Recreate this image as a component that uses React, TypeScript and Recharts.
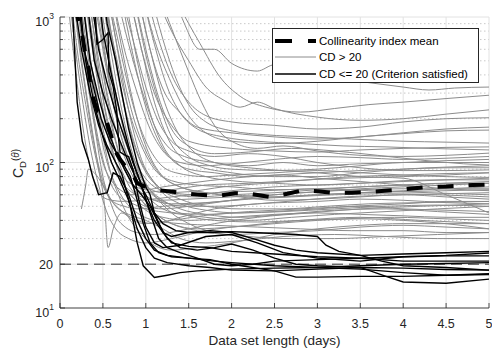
import React from 'react';
import { LineChart, Line, XAxis, YAxis, CartesianGrid } from 'recharts';

type Pt = [number, number];

// axis ticks
const xTicks = [0, 0.5, 1, 1.5, 2, 2.5, 3, 3.5, 4, 4.5, 5];
const yMajorTicks = [10, 20, 100, 1000];
const yLabelBase = ['10', '20', '10', '10'];
const yLabelExp = ['1', '', '2', '3'];
const yMinorTicks = [30, 40, 50, 60, 70, 80, 90, 200, 300, 400, 500, 600, 700, 800, 900];
const yAllTicks = [10, 20, 30, 40, 50, 60, 70, 80, 90, 100, 200, 300, 400, 500, 600, 700, 800, 900, 1000];

const legendLabels = ['Collinearity index mean', 'CD > 20', 'CD <= 20 (Criterion satisfied)'];

// criterion level
const threshold: Pt[] = [[0, 20], [5, 20]];

// mean of the collinearity index
const meanLine: Pt[] = [
  [0.18, 1200], [0.22, 900], [0.26, 750], [0.29, 580], [0.33, 460], [0.36, 340], [0.4, 260],
  [0.44, 225], [0.5, 215], [0.54, 195], [0.6, 150], [0.65, 118], [0.7, 105], [0.75, 96],
  [0.84, 85], [0.9, 72], [1.0, 68], [1.1, 65], [1.34, 62.7], [1.52, 60.7], [1.67, 59.8],
  [1.84, 58.9], [2.04, 61.5], [2.21, 61], [2.45, 58], [2.65, 61], [2.83, 64.5], [3.0, 63.5],
  [3.18, 62], [3.4, 62], [3.58, 62.6], [3.78, 64], [3.96, 65], [4.13, 66.5], [4.31, 68],
  [4.5, 68.5], [4.81, 70], [5, 70.5],
];

// CD > 20, slow ones that stay high
const grayLate: Pt[][] = [
  [[1.25, 2000], [1.45, 900], [1.63, 600], [1.8, 600], [2.0, 480], [2.3, 425], [2.5, 470], [2.8, 430], [3.2, 380], [3.5, 360], [4, 330], [4.3, 315], [4.6, 325], [5, 330]],
  [[1.3, 1500], [1.5, 900], [1.63, 660], [1.86, 390], [2.1, 285], [2.4, 240], [2.8, 222], [3.2, 235], [3.6, 250], [4, 260], [4.5, 275], [5, 290]],
  [[1.1, 1500], [1.3, 800], [1.5, 500], [1.7, 330], [1.9, 270], [2.1, 240], [2.3, 260], [2.5, 235], [3, 205], [3.5, 195], [4, 200], [4.5, 215], [5, 230]],
  [[1.0, 1500], [1.15, 700], [1.3, 400], [1.5, 260], [1.7, 210], [2, 190], [2.5, 180], [3, 170], [3.5, 175], [4, 190], [4.5, 200], [5, 203]],
  [[0.9, 1500], [1.05, 600], [1.2, 320], [1.4, 220], [1.6, 175], [2, 160], [2.5, 150], [3, 145], [3.5, 150], [4, 160], [4.5, 170], [5, 175]],
  [[0.95, 1500], [1.1, 700], [1.3, 350], [1.5, 210], [1.7, 160], [2, 140], [2.5, 135], [3, 140], [3.5, 150], [4, 158], [4.5, 165], [5, 167]],
  [[0.8, 1500], [0.95, 600], [1.1, 300], [1.3, 180], [1.5, 140], [2, 125], [2.5, 120], [3, 118], [3.5, 122], [4, 125], [4.5, 127], [5, 128]],
  [[1.2, 1200], [1.35, 700], [1.5, 420], [1.65, 260], [1.8, 180], [2, 140], [2.3, 125], [2.6, 130], [3, 120], [3.5, 112], [4, 110], [4.5, 112], [5, 116]],
];

// CD > 20, mid descenders
const grayMid: Pt[][] = [
  [[0.6, 1500], [0.75, 600], [0.9, 300], [1.05, 170], [1.2, 120], [1.4, 100], [1.7, 95], [2, 98], [2.5, 105], [3, 110], [3.5, 108], [4, 105], [4.5, 107], [5, 110]],
  [[0.65, 1500], [0.8, 650], [0.95, 320], [1.1, 180], [1.25, 130], [1.45, 110], [1.8, 100], [2.2, 95], [2.6, 100], [3, 95], [3.5, 98], [4, 100], [4.5, 103], [5, 105]],
  [[0.7, 1500], [0.85, 700], [1.0, 330], [1.15, 190], [1.3, 140], [1.5, 120], [1.8, 110], [2.2, 115], [2.6, 110], [3, 100], [3.5, 92], [4, 88], [4.5, 88], [5, 89]],
  [[0.55, 1500], [0.7, 600], [0.85, 250], [1.0, 140], [1.15, 100], [1.35, 85], [1.7, 80], [2, 82], [2.5, 85], [3, 88], [3.5, 85], [4, 82], [4.5, 80], [5, 79]],
  [[0.75, 1500], [0.9, 500], [1.05, 220], [1.2, 130], [1.4, 95], [1.7, 80], [2, 75], [2.5, 72], [3, 70], [3.5, 72], [4, 75], [4.5, 76], [5, 76]],
  [[0.5, 1500], [0.65, 550], [0.8, 230], [0.95, 130], [1.1, 90], [1.3, 75], [1.6, 70], [2, 68], [2.5, 65], [3, 66], [3.5, 68], [4, 70], [4.5, 72], [5, 72]],
  [[0.85, 1500], [1.0, 550], [1.15, 260], [1.3, 150], [1.5, 110], [1.75, 95], [2, 90], [2.5, 88], [3, 90], [3.5, 95], [4, 100], [4.5, 100], [5, 100]],
  [[0.6, 1500], [0.75, 500], [0.9, 200], [1.05, 110], [1.2, 80], [1.4, 68], [1.7, 62], [2, 60], [2.5, 58], [3, 60], [3.5, 62], [4, 64], [4.5, 66], [5, 68]],
  [[0.9, 1500], [1.05, 600], [1.2, 280], [1.35, 170], [1.55, 120], [1.8, 100], [2.2, 92], [2.6, 88], [3, 85], [3.5, 80], [4, 78], [4.5, 60], [5, 45]],
  [[0.7, 1500], [0.85, 550], [1.0, 240], [1.15, 140], [1.3, 105], [1.5, 90], [1.8, 85], [2.2, 80], [2.6, 82], [3, 78], [3.5, 74], [4, 70], [4.5, 66], [5, 64]],
  [[0.8, 1500], [0.95, 600], [1.1, 260], [1.25, 150], [1.4, 110], [1.6, 95], [2, 85], [2.5, 80], [3, 80], [3.5, 85], [4, 90], [4.5, 93], [5, 95]],
  [[0.55, 1500], [0.7, 500], [0.85, 210], [1.0, 120], [1.15, 85], [1.35, 70], [1.7, 62], [2.1, 58], [2.5, 55], [3, 56], [3.5, 58], [4, 60], [4.5, 58], [5, 56]],
  [[0.95, 1500], [1.1, 650], [1.25, 330], [1.4, 220], [1.6, 170], [1.9, 150], [2.3, 140], [2.8, 135], [3.3, 130], [3.8, 128], [4.3, 125], [5, 122]],
  [[1.05, 1500], [1.2, 700], [1.35, 380], [1.5, 250], [1.7, 190], [2, 165], [2.4, 155], [2.9, 150], [3.4, 145], [4, 140], [4.5, 138], [5, 136]],
  [[0.85, 1500], [1.0, 600], [1.15, 280], [1.3, 170], [1.5, 130], [1.8, 115], [2.2, 118], [2.7, 125], [3.2, 120], [3.7, 112], [4.2, 104], [4.7, 98], [5, 96]],
];

// CD > 20, early descenders
const grayEarly: Pt[][] = [
  [[0.1, 1500], [0.18, 600], [0.27, 250], [0.36, 120], [0.45, 70], [0.55, 45], [0.65, 35], [0.8, 30], [1.0, 28], [1.3, 30], [1.7, 34], [2.2, 37], [2.8, 40], [3.5, 42], [4.2, 40], [5, 38]],
  [[0.12, 1500], [0.2, 600], [0.3, 250], [0.4, 120], [0.5, 70], [0.6, 55], [0.75, 50], [0.9, 48], [1.2, 50], [1.6, 52], [2, 55], [2.5, 58], [3, 60], [3.5, 62], [4, 63], [4.5, 64], [5, 65]],
  [[0.15, 1500], [0.22, 700], [0.3, 320], [0.38, 160], [0.45, 90], [0.52, 50], [0.56, 26], [0.62, 35], [0.72, 45], [0.85, 40], [1.0, 38], [1.3, 40], [1.8, 44], [2.5, 46], [3, 48], [3.5, 50], [4, 48], [4.5, 47], [5, 46]],
  [[0.25, 48], [0.3, 70], [0.33, 90], [0.4, 85], [0.5, 70], [0.6, 55], [0.75, 45], [0.9, 40], [1.1, 38], [1.4, 42], [1.8, 48], [2.3, 52], [3, 54], [3.5, 56], [4, 55], [4.5, 53], [5, 52]],
  [[0.2, 1500], [0.28, 600], [0.36, 280], [0.44, 150], [0.52, 95], [0.6, 70], [0.7, 58], [0.85, 52], [1.0, 48], [1.3, 45], [1.7, 42], [2.2, 40], [2.7, 42], [3.2, 44], [3.8, 46], [4.4, 48], [5, 50]],
  [[0.18, 1500], [0.26, 650], [0.34, 300], [0.42, 160], [0.5, 100], [0.6, 75], [0.7, 65], [0.85, 60], [1.0, 62], [1.3, 65], [1.7, 70], [2.2, 72], [2.7, 75], [3.3, 78], [4, 80], [4.5, 82], [5, 85]],
  [[0.22, 1500], [0.3, 700], [0.38, 320], [0.46, 170], [0.55, 100], [0.65, 70], [0.75, 55], [0.9, 45], [1.1, 40], [1.4, 38], [1.8, 37], [2.3, 36], [2.8, 35], [3.4, 34], [4, 34], [4.5, 33], [5, 33]],
  [[0.25, 1500], [0.33, 650], [0.42, 300], [0.5, 170], [0.58, 110], [0.68, 80], [0.8, 65], [0.95, 58], [1.15, 55], [1.5, 56], [2, 58], [2.5, 60], [3, 63], [3.5, 66], [4, 68], [4.5, 70], [5, 72]],
  [[0.28, 1500], [0.36, 700], [0.45, 330], [0.55, 170], [0.65, 100], [0.75, 70], [0.88, 55], [1.0, 47], [1.2, 42], [1.5, 40], [2, 42], [2.5, 44], [3, 45], [3.5, 44], [4, 43], [4.5, 42], [5, 42]],
  [[0.3, 1500], [0.4, 600], [0.5, 280], [0.6, 150], [0.7, 95], [0.8, 70], [0.95, 55], [1.1, 45], [1.3, 38], [1.6, 35], [2, 36], [2.5, 38], [3, 40], [3.5, 41], [4, 40], [4.5, 38], [5, 35]],
  [[0.32, 1500], [0.42, 650], [0.52, 300], [0.62, 160], [0.72, 100], [0.82, 75], [0.95, 62], [1.1, 55], [1.3, 52], [1.7, 53], [2.2, 56], [2.7, 58], [3.2, 60], [3.8, 61], [4.4, 60], [5, 58]],
  [[0.35, 1500], [0.45, 650], [0.55, 300], [0.65, 170], [0.75, 110], [0.85, 80], [1.0, 60], [1.15, 50], [1.35, 45], [1.7, 44], [2.2, 46], [2.8, 48], [3.4, 50], [4, 52], [4.5, 54], [5, 54]],
  [[0.38, 1500], [0.48, 700], [0.58, 330], [0.68, 180], [0.78, 115], [0.9, 80], [1.05, 62], [1.2, 54], [1.45, 50], [1.8, 50], [2.3, 52], [2.8, 55], [3.3, 58], [4, 60], [4.5, 61], [5, 62]],
  [[0.4, 1500], [0.5, 650], [0.6, 320], [0.7, 180], [0.8, 120], [0.92, 85], [1.05, 65], [1.2, 55], [1.4, 48], [1.7, 44], [2.1, 42], [2.6, 44], [3.2, 47], [3.8, 48], [4.4, 46], [5, 44]],
  [[0.42, 1500], [0.52, 700], [0.62, 350], [0.72, 190], [0.82, 120], [0.95, 85], [1.1, 68], [1.3, 62], [1.6, 60], [2, 64], [2.5, 68], [3, 70], [3.5, 72], [4, 74], [4.5, 76], [5, 78]],
  [[0.45, 1500], [0.55, 650], [0.65, 300], [0.75, 160], [0.85, 100], [1.0, 70], [1.15, 56], [1.3, 48], [1.5, 43], [1.8, 40], [2.3, 39], [2.8, 40], [3.3, 41], [3.9, 42], [4.5, 41], [5, 40]],
  [[0.15, 1500], [0.22, 650], [0.3, 300], [0.38, 150], [0.46, 90], [0.55, 62], [0.65, 50], [0.8, 44], [1.0, 40], [1.2, 35], [1.4, 30], [1.7, 28], [2.1, 29], [2.6, 31], [3.2, 32], [3.8, 31], [4.4, 30], [5, 30]],
  [[0.26, 1500], [0.34, 600], [0.42, 280], [0.5, 150], [0.58, 90], [0.68, 60], [0.8, 42], [0.95, 32], [1.1, 27], [1.3, 25], [1.6, 26], [2, 28], [2.5, 32], [3, 35], [3.5, 37], [4, 38], [4.5, 38], [5, 38]],
  [[0.48, 1500], [0.58, 650], [0.68, 300], [0.78, 160], [0.88, 100], [1.0, 72], [1.15, 55], [1.3, 45], [1.5, 38], [1.8, 33], [2.2, 31], [2.7, 30], [3.2, 30], [3.8, 31], [4.4, 32], [5, 33]],
  [[0.5, 1500], [0.6, 700], [0.7, 330], [0.8, 180], [0.9, 115], [1.02, 82], [1.15, 68], [1.35, 60], [1.6, 58], [2, 60], [2.5, 62], [3, 65], [3.5, 68], [4, 70], [4.5, 72], [5, 74]],
  [[0.2, 1500], [0.27, 700], [0.35, 300], [0.43, 140], [0.5, 80], [0.58, 55], [0.66, 42], [0.76, 36], [0.9, 33], [1.1, 32], [1.4, 34], [1.8, 38], [2.3, 42], [2.9, 45], [3.5, 48], [4.2, 50], [5, 52]],
  [[0.33, 1500], [0.42, 600], [0.5, 280], [0.58, 150], [0.66, 95], [0.76, 68], [0.88, 55], [1.0, 50], [1.2, 48], [1.5, 50], [2, 55], [2.5, 60], [3, 63], [3.5, 65], [4, 66], [4.5, 66], [5, 66]],
  [[0.37, 1500], [0.46, 600], [0.55, 280], [0.64, 150], [0.74, 95], [0.85, 68], [0.98, 52], [1.12, 44], [1.3, 38], [1.6, 34], [2, 32], [2.5, 33], [3, 34], [3.5, 36], [4, 37], [4.5, 36], [5, 35]],
  [[0.43, 1500], [0.52, 600], [0.6, 290], [0.7, 160], [0.8, 105], [0.92, 78], [1.05, 66], [1.2, 62], [1.5, 63], [1.9, 68], [2.4, 72], [2.9, 76], [3.4, 80], [4, 82], [4.5, 84], [5, 85]],
  [[0.52, 1500], [0.62, 650], [0.72, 300], [0.82, 170], [0.92, 110], [1.05, 80], [1.2, 64], [1.4, 56], [1.7, 50], [2.1, 48], [2.6, 48], [3.1, 50], [3.6, 52], [4.2, 53], [5, 54]],
  [[0.3, 1500], [0.38, 700], [0.46, 320], [0.54, 170], [0.62, 110], [0.72, 82], [0.85, 70], [1.0, 65], [1.2, 68], [1.5, 72], [2, 78], [2.5, 82], [3, 85], [3.5, 88], [4, 90], [4.5, 92], [5, 92]],
  [[0.08, 1500], [0.14, 700], [0.2, 350], [0.27, 170], [0.34, 100], [0.42, 70], [0.5, 58], [0.6, 55], [0.75, 54], [0.95, 55], [1.3, 58], [1.8, 62], [2.4, 64], [3, 66], [3.6, 64], [4.3, 62], [5, 60]],
  [[0.55, 1500], [0.65, 700], [0.75, 320], [0.85, 170], [0.95, 105], [1.08, 75], [1.22, 60], [1.4, 52], [1.7, 47], [2.1, 45], [2.6, 46], [3.2, 48], [3.8, 50], [4.4, 51], [5, 50]],
];

// CD <= 20, criterion satisfied
const blackSeries: Pt[][] = [
  [[0.15, 1500], [0.25, 600], [0.35, 300], [0.45, 180], [0.55, 130], [0.65, 100], [0.72, 84], [0.82, 50], [0.9, 28], [0.97, 19.5], [1.1, 16.2], [1.25, 16.8], [1.4, 17.5], [1.6, 18], [2, 18.5], [2.5, 18.8], [3, 19], [3.5, 19.5], [4, 20], [4.5, 20.2], [5, 20.5]],
  [[0.4, 1500], [0.43, 650], [0.5, 700], [0.56, 780], [0.57, 420], [0.62, 330], [0.66, 230], [0.68, 150], [0.7, 118], [0.76, 112], [0.8, 110], [0.85, 90], [0.92, 55], [1.0, 36], [1.1, 28], [1.2, 26], [1.4, 27], [1.7, 31], [2, 32], [2.3, 28], [2.6, 24], [3, 22], [3.5, 21], [4, 22.5], [4.5, 23], [5, 23.9]],
  [[0.15, 1000], [0.2, 260], [0.26, 140], [0.33, 105], [0.38, 80], [0.45, 60], [0.55, 62], [0.62, 85], [0.7, 80], [0.8, 60], [0.9, 40], [1.0, 30], [1.1, 25], [1.25, 23], [1.5, 22], [1.8, 21], [2, 20.5], [2.5, 19.5], [3, 19], [3.5, 18.5], [4, 17.5], [4.5, 16.8], [5, 17]],
  [[0.2, 1500], [0.28, 600], [0.38, 350], [0.48, 200], [0.58, 140], [0.68, 110], [0.75, 95], [0.82, 80], [0.9, 55], [0.97, 38], [1.05, 28], [1.15, 24], [1.3, 22.5], [1.5, 22], [1.75, 21.5], [2, 20], [2.5, 18], [2.75, 16.3], [3, 16.3], [3.5, 16.5], [4, 16.5], [4.5, 16.8], [5, 17.2]],
  [[0.3, 1500], [0.4, 500], [0.5, 300], [0.6, 200], [0.7, 140], [0.8, 100], [0.9, 75], [1.0, 60], [1.1, 45], [1.2, 38], [1.35, 34], [1.5, 33], [1.75, 33], [2, 33.5], [2.25, 33], [2.5, 32.5], [2.75, 32], [3, 31], [3.1, 27], [3.25, 24.5], [3.5, 23], [3.75, 21], [4, 19.5], [4.5, 19], [5, 18.2]],
  [[0.45, 1500], [0.5, 800], [0.6, 400], [0.7, 220], [0.8, 130], [0.88, 90], [0.95, 70], [1.0, 55], [1.1, 40], [1.2, 33], [1.3, 31], [1.5, 33], [1.75, 34], [2, 33], [2.25, 30], [2.5, 27], [2.75, 25], [3, 24], [3.5, 23], [4, 23.5], [4.5, 24], [5, 24.5]],
  [[0.35, 1500], [0.45, 600], [0.55, 350], [0.65, 220], [0.75, 150], [0.85, 100], [0.95, 70], [1.05, 45], [1.15, 30], [1.25, 26], [1.4, 24], [1.6, 22], [1.8, 20], [2.0, 19.5], [2.25, 20], [2.5, 21], [3, 21.5], [3.5, 22], [4, 22.5], [4.5, 22.8], [5, 22.8]],
  [[0.25, 1500], [0.35, 500], [0.45, 280], [0.55, 170], [0.65, 120], [0.75, 90], [0.85, 70], [0.95, 60], [1.05, 50], [1.15, 38], [1.25, 30], [1.4, 26], [1.6, 25], [1.8, 26], [2.0, 27.5], [2.25, 25], [2.5, 22], [2.75, 20], [3, 19.5], [3.5, 19], [3.8, 16.5], [4, 15.1], [4.5, 14.8], [5, 15.8]],
  [[0.5, 1500], [0.55, 900], [0.65, 500], [0.72, 300], [0.8, 170], [0.9, 100], [1.0, 68], [1.05, 60], [1.1, 45], [1.2, 33], [1.3, 28], [1.5, 26.5], [1.75, 26], [2, 24.5], [2.5, 23.5], [3, 22.5], [3.5, 22], [4, 21], [4.5, 21], [5, 21]],
  [[0.22, 1500], [0.3, 500], [0.4, 250], [0.5, 150], [0.6, 100], [0.7, 75], [0.8, 55], [0.9, 35], [1.0, 26], [1.1, 22], [1.25, 20.5], [1.5, 19.5], [1.75, 19], [2, 18.2], [2.5, 18], [3, 18.5], [3.5, 19], [4, 18.8], [4.5, 18.4], [5, 18.2]],
];

const AXIS = '#262626';
const FONT = '"Liberation Sans", Arial, Helvetica, sans-serif';
const GRAY = '#8c8c8c';

const toRows = (pts: Pt[]) => pts.map(([x, v]) => ({ x, v }));

function BottomTick({ x, y, payload }: any) {
  return (
    <g>
      <line x1={x} y1={y} x2={x} y2={y - 5} stroke={AXIS} strokeWidth={0.8} />
      <text x={x} y={y + 20} textAnchor="middle" fill={AXIS} fontSize={12.5} fontFamily={FONT}>
        {payload.value}
      </text>
    </g>
  );
}

function TopTick({ x, y }: any) {
  return <line x1={x} y1={y} x2={x} y2={y + 5} stroke={AXIS} strokeWidth={0.8} />;
}

function LeftTick({ x, y, payload }: any) {
  const i = yMajorTicks.indexOf(payload.value);
  const len = i >= 0 ? 5 : 3;
  return (
    <g>
      <line x1={x} y1={y} x2={x + len} y2={y} stroke={AXIS} strokeWidth={0.8} />
      {i >= 0 && yLabelExp[i] !== '' && (
        <text x={x - 6} y={y + 9} textAnchor="end" fill={AXIS} fontSize={12.5} fontFamily={FONT}>
          <tspan>{yLabelBase[i]}</tspan>
          <tspan dy={-7} fontSize={8.5}>{yLabelExp[i]}</tspan>
        </text>
      )}
      {i >= 0 && yLabelExp[i] === '' && (
        <text x={x - 7} y={y + 4.5} textAnchor="end" fill={AXIS} fontSize={12.5} fontFamily={FONT}>
          {yLabelBase[i]}
        </text>
      )}
    </g>
  );
}

function RightTick({ x, y, payload }: any) {
  const len = yMajorTicks.includes(payload.value) ? 5 : 3;
  return <line x1={x} y1={y} x2={x - len} y2={y} stroke={AXIS} strokeWidth={0.8} />;
}

function XLabel({ viewBox }: any) {
  const { x, y, width } = viewBox;
  return (
    <text x={x + width / 2} y={y + 37} textAnchor="middle" fill={AXIS} fontSize={13.5} fontFamily={FONT}>
      Data set length (days)
    </text>
  );
}

function YLabel({ viewBox }: any) {
  const { x, y, height } = viewBox;
  const cx = x + 23;
  const cy = y + height / 2 + 1;
  return (
    <text transform={`translate(${cx},${cy}) rotate(-90)`} textAnchor="middle" fill={AXIS} fontFamily={FONT} fontSize={14}>
      <tspan>C</tspan>
      <tspan fontSize={9.5} dy={3}>D</tspan>
      <tspan fontSize={10} dy={-7}>(</tspan>
      <tspan fontSize={10} fontStyle="italic">θ</tspan>
      <tspan fontSize={10}>)</tspan>
    </text>
  );
}

function LegendBox() {
  const rows = [12, 28, 44.5];
  return (
    <div
      style={{
        position: 'absolute', left: 272, top: 28, width: 207, height: 55,
        border: `1px solid ${AXIS}`, background: '#fff', boxSizing: 'border-box',
        fontFamily: FONT, fontSize: 11.5, color: '#000',
      }}
    >
      {legendLabels.map((label, i) => (
        <div key={label} style={{ position: 'absolute', left: 2, top: rows[i] - 8, height: 16, display: 'flex', alignItems: 'center', whiteSpace: 'nowrap' }}>
          <svg width={41} height={16} style={{ display: 'block' }}>
            {i === 0 && <line x1={0} y1={8} x2={41} y2={8} stroke="#000" strokeWidth={4} strokeDasharray="17 16" />}
            {i === 1 && <line x1={0} y1={8} x2={41} y2={8} stroke={GRAY} strokeWidth={1} />}
            {i === 2 && <line x1={0} y1={8} x2={41} y2={8} stroke="#000" strokeWidth={1.3} />}
          </svg>
          <span style={{ marginLeft: 3 }}>{label}</span>
        </div>
      ))}
    </div>
  );
}

export default function App() {
  return (
    <div style={{ position: 'absolute', left: 0, top: 0, width: 492, height: 348, background: '#fff' }}>
      <LineChart width={492} height={348} margin={{ top: 17, right: 3, bottom: 0, left: 0 }}>
        <CartesianGrid vertical={false} horizontalValues={yMinorTicks} stroke="#c9c9c9" strokeDasharray="1.5 2.5" />
        <CartesianGrid horizontalValues={yMajorTicks} verticalValues={xTicks} stroke="#e2e2e2" />
        <XAxis
          type="number" dataKey="x" domain={[0, 5]} ticks={xTicks} interval={0} allowDataOverflow
          height={40} tickSize={0} tickMargin={0} tickLine={false}
          axisLine={{ stroke: AXIS, strokeWidth: 0.8 }} tick={<BottomTick />} label={<XLabel />}
        />
        <XAxis
          xAxisId="top" orientation="top" type="number" dataKey="x" domain={[0, 5]} ticks={xTicks} interval={0}
          allowDataOverflow height={0} tickSize={0} tickMargin={0} tickLine={false}
          axisLine={{ stroke: AXIS, strokeWidth: 0.8 }} tick={<TopTick />}
        />
        <YAxis
          scale="log" domain={[10, 1000]} allowDataOverflow ticks={yAllTicks} interval={0}
          width={60} tickSize={0} tickMargin={0} tickLine={false}
          axisLine={{ stroke: AXIS, strokeWidth: 0.8 }} tick={<LeftTick />} label={<YLabel />}
        />
        <YAxis
          yAxisId="right" orientation="right" scale="log" domain={[10, 1000]} allowDataOverflow
          ticks={yAllTicks} interval={0} width={0} tickSize={0} tickMargin={0} tickLine={false}
          axisLine={{ stroke: AXIS, strokeWidth: 0.8 }} tick={<RightTick />}
        />
        {[...grayLate, ...grayMid, ...grayEarly].map((s, i) => (
          <Line
            key={`g${i}`} data={toRows(s)} dataKey="v" type="monotone" stroke={GRAY} strokeWidth={1}
            dot={false} activeDot={false} isAnimationActive={false} legendType="none"
          />
        ))}
        <Line
          data={toRows(threshold)} dataKey="v" type="linear" stroke="#333" strokeWidth={1}
          strokeDasharray="11 6" dot={false} activeDot={false} isAnimationActive={false} legendType="none"
        />
        {blackSeries.map((s, i) => (
          <Line
            key={`b${i}`} data={toRows(s)} dataKey="v" type="linear" stroke="#000" strokeWidth={1.4}
            dot={false} activeDot={false} isAnimationActive={false} legendType="none"
          />
        ))}
        <Line
          data={toRows(meanLine)} dataKey="v" type="linear" stroke="#000" strokeWidth={4}
          strokeDasharray="16 15" dot={false} activeDot={false} isAnimationActive={false} legendType="none"
        />
      </LineChart>
      <LegendBox />
    </div>
  );
}
